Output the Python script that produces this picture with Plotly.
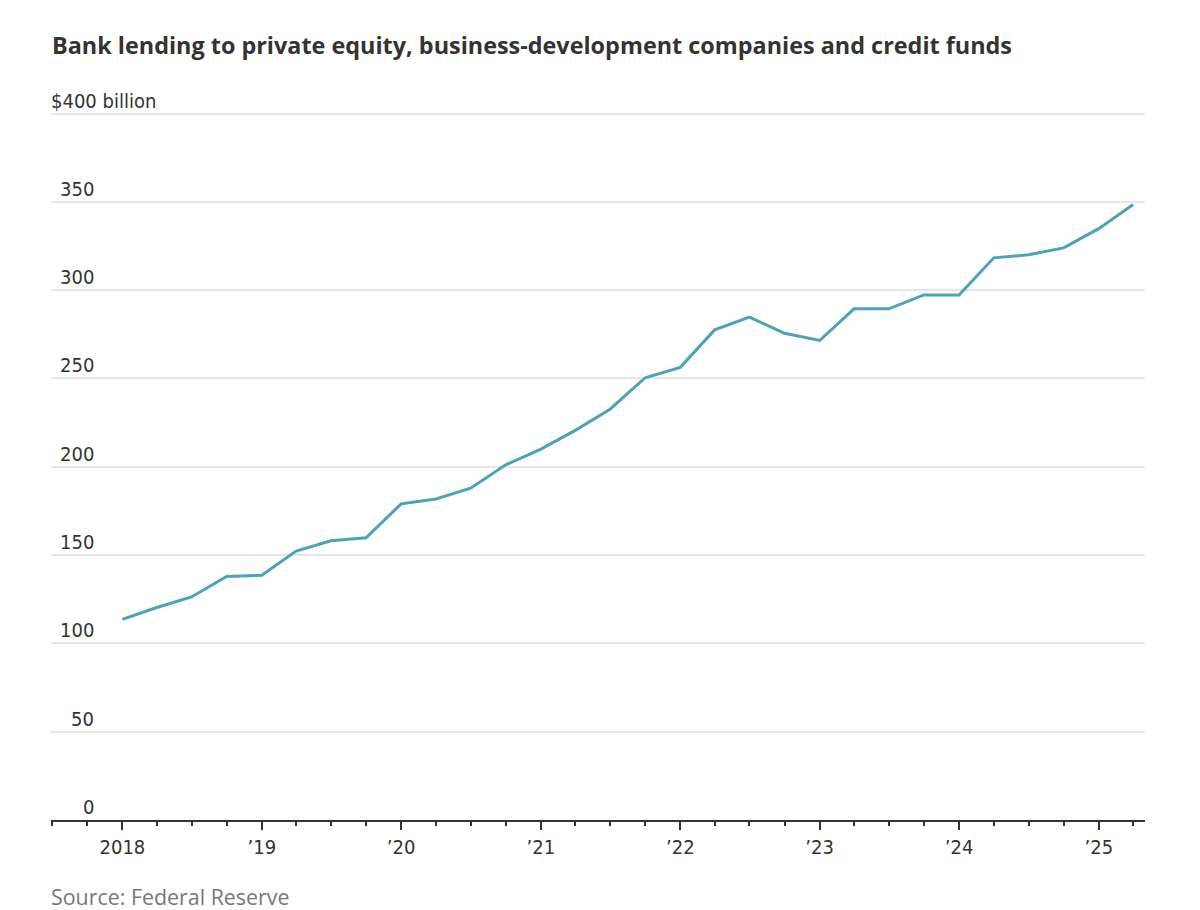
import plotly.graph_objects as go

# Quarterly values, $ billion
quarters = [
    "2018-01-01", "2018-04-01", "2018-07-01", "2018-10-01",
    "2019-01-01", "2019-04-01", "2019-07-01", "2019-10-01",
    "2020-01-01", "2020-04-01", "2020-07-01", "2020-10-01",
    "2021-01-01", "2021-04-01", "2021-07-01", "2021-10-01",
    "2022-01-01", "2022-04-01", "2022-07-01", "2022-10-01",
    "2023-01-01", "2023-04-01", "2023-07-01", "2023-10-01",
    "2024-01-01", "2024-04-01", "2024-07-01", "2024-10-01",
    "2025-01-01", "2025-04-01",
]
lending = [
    113.6, 120.3, 126.3, 137.9,
    138.6, 152.3, 158.1, 159.8,
    179.0, 181.8, 187.9, 201.1,
    210.0, 220.6, 232.6, 250.4,
    256.3, 277.5, 284.7, 275.6,
    271.5, 289.4, 289.4, 297.3,
    297.3, 318.3, 320.0, 323.9,
    334.8, 348.5,
]

year_ticks = ["2018-01-01", "2019-01-01", "2020-01-01", "2021-01-01",
              "2022-01-01", "2023-01-01", "2024-01-01", "2025-01-01"]
year_labels = ["2018", "’19", "’20", "’21", "’22", "’23", "’24", "’25"]

y_ticks = [0, 50, 100, 150, 200, 250, 300, 350, 400]
y_labels = ["0", "50", "100", "150", "200", "250", "300", "350", "$400 billion"]

# narrow face for the axis labels, wider one for title/source
AXIS_FONT = "DejaVu Sans Condensed, Roboto, sans-serif"
TEXT_FONT = "Open Sans, Noto Sans, sans-serif"

# page body has an 8px margin, so the figure is 8px smaller on each axis
W, H = 1192, 902

fig = go.Figure()

fig.add_trace(go.Scatter(
    x=quarters,
    y=lending,
    mode="lines",
    line=dict(color="#4aa3b9", width=3),
    cliponaxis=False,
    hoverinfo="skip",
))

# y labels sit above the gridlines, right-aligned on the digits
for v, t in zip(y_ticks, y_labels):
    if t.startswith("$"):
        fig.add_annotation(x=0, xref="paper", y=v, yref="y", text=t,
                           xanchor="left", yanchor="bottom", yshift=-1, xshift=-2,
                           showarrow=False, font=dict(size=20, color="#333", family=AXIS_FONT))
    else:
        fig.add_annotation(x=0, xref="paper", y=v, yref="y", text=t,
                           xanchor="right", yanchor="bottom", yshift=-1, xshift=45,
                           showarrow=False, font=dict(size=20, color="#333", family=AXIS_FONT))

fig.add_annotation(x=0, xref="paper", y=0, yref="paper", text="Source: Federal Reserve",
                   xanchor="left", yanchor="middle", yshift=-76, xshift=-2,
                   showarrow=False, font=dict(size=21.4, color="#777", family=TEXT_FONT))

fig.update_layout(
    title=dict(text="<b>Bank lending to private equity, business-development companies and credit funds</b>",
               x=44 / W, xanchor="left", xref="container",
               y=1 - 38 / H, yanchor="middle", yref="container",
               font=dict(size=23.4, color="#333", family=TEXT_FONT)),
    font=dict(family=AXIS_FONT, color="#333"),
    width=W,
    height=H,
    margin=dict(l=43, r=55, t=102, b=89.5),
    plot_bgcolor="white",
    paper_bgcolor="white",
    showlegend=False,
    xaxis=dict(
        type="date",
        range=["2017-06-28", "2025-05-02"],
        tickvals=year_ticks,
        ticktext=year_labels,
        ticks="outside",
        ticklen=8,
        tickwidth=1.5,
        tickcolor="#333",
        tickfont=dict(size=20, color="#333"),
        showline=True,
        linecolor="#333",
        linewidth=2,
        showgrid=False,
        zeroline=False,
        minor=dict(dtick="M3", tick0="2018-01-01", ticks="outside", ticklen=4,
                   tickwidth=1.5, tickcolor="#333", showgrid=False),
    ),
    yaxis=dict(
        range=[0, 402],
        tickvals=y_ticks,
        showticklabels=False,
        showgrid=True,
        gridcolor="#e6e6e6",
        gridwidth=1.5,
        zeroline=False,
        showline=False,
        ticks="",
    ),
)

fig.write_html("out.html")
